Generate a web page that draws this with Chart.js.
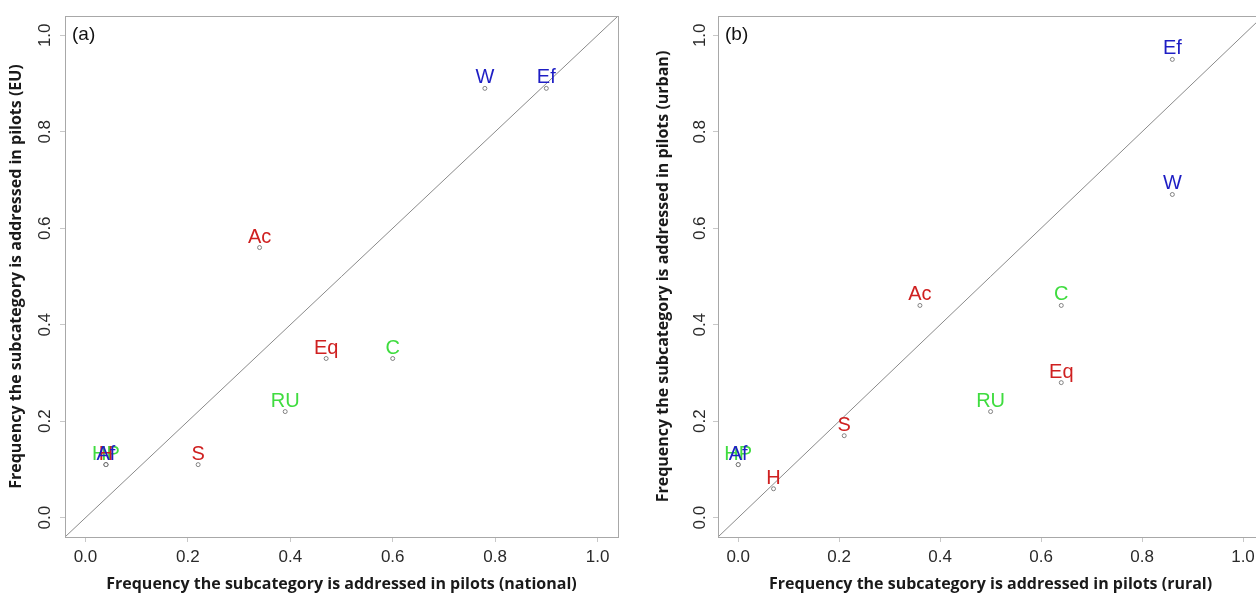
<!DOCTYPE html>
<html>
<head>
<meta charset="utf-8">
<script src="https://cdn.jsdelivr.net/npm/chart.js@4.4.1/dist/chart.umd.min.js"></script>
<style>
  html, body { margin: 0; padding: 0; background: #fff; overflow: hidden; }
  body { width: 1256px; height: 598px; position: relative; }
  canvas { position: absolute; top: 0; }
</style>
</head>
<body>
<canvas id="panel-a" width="628" height="598" style="left:0"></canvas>
<canvas id="panel-b" width="640" height="598" style="left:628px"></canvas>
<script>
// --- datos ---
const tickValues = [0, 0.2, 0.4, 0.6, 0.8, 1.0];
const axisRange = [-0.04, 1.04];

const namesA  = ['W', 'Ef', 'Ac', 'Eq', 'C', 'RU', 'S', 'HP', 'H', 'Af'];
const groupsA = ['eco', 'eco', 'soc', 'soc', 'env', 'env', 'soc', 'env', 'soc', 'eco'];
const nationalA = [0.78, 0.90, 0.34, 0.47, 0.60, 0.39, 0.22, 0.04, 0.04, 0.04];
const euA       = [0.89, 0.89, 0.56, 0.33, 0.33, 0.22, 0.11, 0.11, 0.11, 0.11];

const namesB  = ['Ef', 'W', 'Ac', 'C', 'Eq', 'RU', 'S', 'H', 'HP', 'Af'];
const groupsB = ['eco', 'eco', 'soc', 'env', 'soc', 'env', 'soc', 'soc', 'env', 'eco'];
const ruralB  = [0.86, 0.86, 0.36, 0.64, 0.64, 0.50, 0.21, 0.07, 0.00, 0.00];
const urbanB  = [0.95, 0.67, 0.44, 0.44, 0.28, 0.22, 0.17, 0.06, 0.11, 0.11];

const groupColors = { soc: '#cf2020', env: '#3fdc3f', eco: '#1e1ec4' };

const tickFont = '17px "Liberation Sans", Arial, sans-serif';
const labelFont = '20px "Liberation Sans", Arial, sans-serif';

// etiquetas de puntos, caja, ticks rotados
const panelPlugin = {
    id: 'panelDeco',
    afterDraw(chart, args, opts) {
        const ctx = chart.ctx;
        const area = chart.chartArea;
        const xs = chart.scales.x, ys = chart.scales.y;
        ctx.save();
        // caja
        ctx.strokeStyle = '#a8a8a8';
        ctx.lineWidth = 1;
        ctx.strokeRect(Math.round(area.left) + 0.5, Math.round(area.top) + 0.5,
            Math.round(area.right - area.left), Math.round(area.bottom - area.top));
        // ticks del eje y (rotados)
        ctx.fillStyle = '#2a2a2a';
        ctx.font = tickFont;
        ctx.textAlign = 'center';
        ctx.textBaseline = 'middle';
        ys.ticks.forEach(t => {
            const py = ys.getPixelForValue(t.value);
            ctx.save();
            ctx.translate(area.left - opts.tickGap, py);
            ctx.rotate(-Math.PI / 2);
            ctx.fillText(t.value.toFixed(1), 0, 0);
            ctx.restore();
        });
        // etiqueta del panel
        ctx.fillStyle = '#111';
        ctx.font = '19px "Liberation Sans", Arial, sans-serif';
        ctx.textAlign = 'left';
        ctx.textBaseline = 'middle';
        ctx.fillText(opts.tag, area.left + 7, area.top + 19);
        // nombres de subcategorías
        ctx.font = labelFont;
        ctx.textAlign = 'center';
        ctx.textBaseline = 'alphabetic';
        opts.names.forEach((n, i) => {
            const px = xs.getPixelForValue(opts.xv[i]);
            const py = ys.getPixelForValue(opts.yv[i]);
            ctx.fillStyle = groupColors[opts.groups[i]];
            ctx.fillText(n, px, py - 5);
        });
        ctx.restore();
    }
};

function makePanel(id, xv, yv, names, groups, xTitle, yTitle, tag, yWidth, yTitlePad, tickGap, padRight) {
    const pts = xv.map((x, i) => ({ x: x, y: yv[i] }));
    const diag = axisRange.map(v => ({ x: v, y: v }));
    return new Chart(document.getElementById(id), {
        type: 'scatter',
        data: {
            datasets: [
                { type: 'line', data: diag, borderColor: '#8a8a8a', borderWidth: 1, pointRadius: 0, fill: false },
                { data: pts, pointRadius: 2, pointBorderWidth: 0.8,
                  pointBackgroundColor: '#fff', pointBorderColor: '#666' }
            ]
        },
        options: {
            responsive: false,
            animation: false,
            devicePixelRatio: 1,
            layout: { padding: { left: 0, right: padRight, top: 16, bottom: 0 } },
            plugins: {
                legend: { display: false },
                tooltip: { enabled: false },
                panelDeco: { names: names, groups: groups, xv: xv, yv: yv, tag: tag, tickGap: tickGap }
            },
            scales: {
                x: {
                    type: 'linear', min: axisRange[0], max: axisRange[1],
                    afterBuildTicks: s => { s.ticks = tickValues.map(v => ({ value: v })); },
                    afterFit: s => { s.height = 61; },
                    border: { display: false },
                    grid: { drawOnChartArea: false, drawTicks: true, tickLength: 5, color: '#c8c8c8' },
                    ticks: { padding: 5, color: '#2a2a2a', maxRotation: 0,
                             font: { family: '"Liberation Sans", Arial, sans-serif', size: 17 },
                             callback: v => Number(v).toFixed(1) },
                    title: { display: true, text: xTitle, color: '#1a1a1a', padding: { top: 4, bottom: 4 },
                             font: { family: '"Open Sans", sans-serif', size: 16, weight: 'bold' } }
                },
                y: {
                    type: 'linear', min: axisRange[0], max: axisRange[1],
                    afterBuildTicks: s => { s.ticks = tickValues.map(v => ({ value: v })); },
                    afterFit: s => { s.width = yWidth; },
                    border: { display: false },
                    grid: { drawOnChartArea: false, drawTicks: true, tickLength: 5, color: '#c8c8c8' },
                    ticks: { display: false },
                    title: { display: true, text: yTitle, color: '#1a1a1a', padding: { top: yTitlePad, bottom: 0 },
                             font: { family: '"Open Sans", sans-serif', size: 16, weight: 'bold' } }
                }
            }
        },
        plugins: [panelPlugin]
    });
}

makePanel('panel-a', nationalA, euA, namesA, groupsA,
    'Frequency the subcategory is addressed in pilots (national)',
    'Frequency the subcategory is addressed in pilots (EU)',
    '(a)', 65, 7, 20, 10);

makePanel('panel-b', ruralB, urbanB, namesB, groupsB,
    'Frequency the subcategory is addressed in pilots (rural)',
    'Frequency the subcategory is addressed in pilots (urban)',
    '(b)', 90, 26, 18, 3);
</script>
</body>
</html>
